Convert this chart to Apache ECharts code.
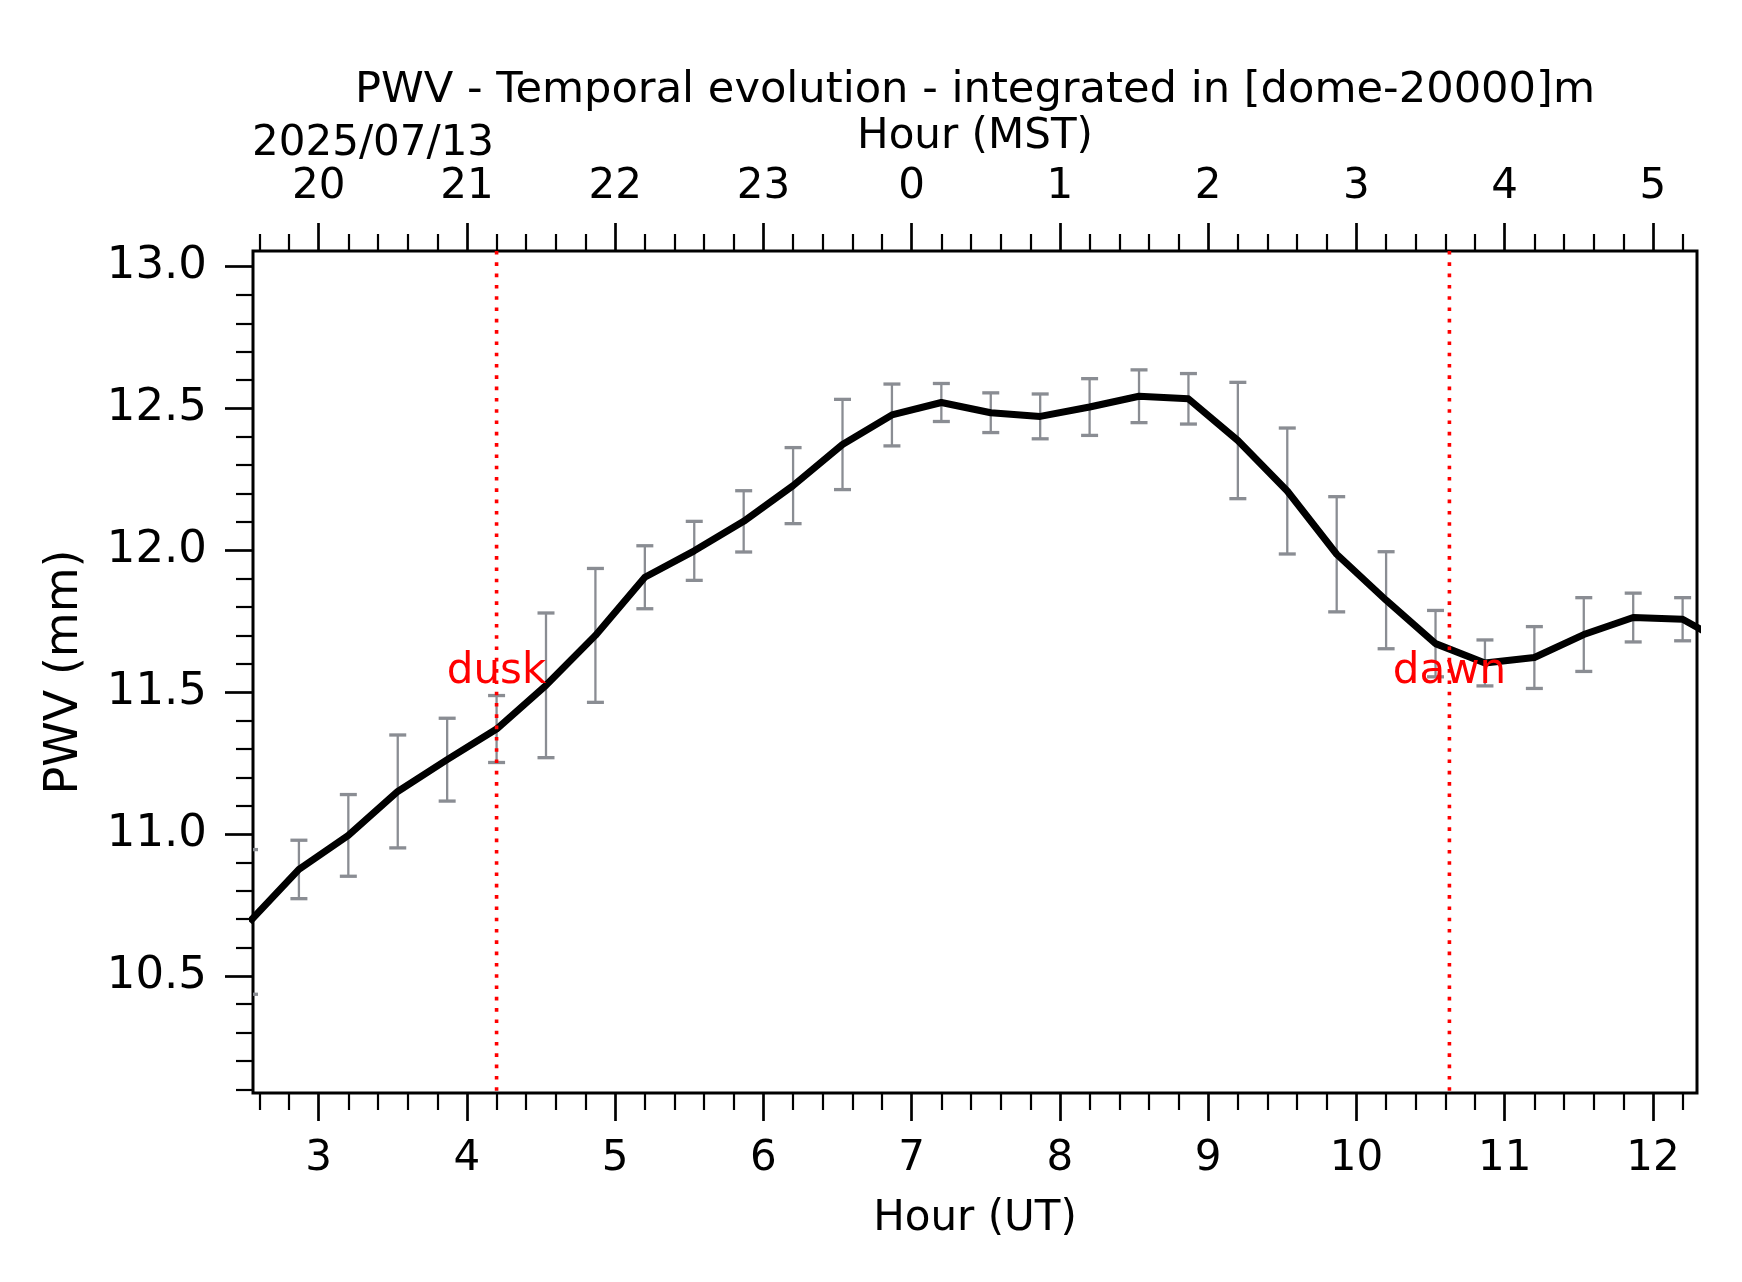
<!DOCTYPE html>
<html><head><meta charset="utf-8">
<script src="https://cdn.jsdelivr.net/npm/echarts@6/dist/echarts.min.js"></script>
<style>html,body{margin:0;padding:0;background:#fff}#c{width:1742px;height:1282px}</style>
</head><body><div id="c"></div>
<script>
// ---- data ----
const times = ['02:32','02:52','03:12','03:32','03:52','04:12','04:32','04:52','05:12','05:32','05:52',
  '06:12','06:32','06:52','07:12','07:32','07:52','08:12','08:32','08:52','09:12','09:32','09:52',
  '10:12','10:32','10:52','11:12','11:32','11:52','12:12','12:32'];
const pwv = [10.69,10.875,10.995,11.15,11.262,11.37,11.524,11.70,11.905,11.998,12.102,
  12.228,12.373,12.477,12.521,12.485,12.472,12.505,12.543,12.534,12.387,12.209,11.986,
  11.824,11.671,11.603,11.622,11.703,11.763,11.757,11.66];
const pwvErr = [0.255,0.103,0.144,0.199,0.146,0.118,0.255,0.236,0.111,0.104,0.108,
  0.134,0.159,0.109,0.067,0.070,0.079,0.100,0.093,0.089,0.205,0.222,0.203,
  0.171,0.117,0.081,0.109,0.130,0.086,0.076,0.090];
const utTicks = [3,4,5,6,7,8,9,10,11,12];
const mstTickLabels = ['20','21','22','23','0','1','2','3','4','5'];
const yTicks = [10.5,11.0,11.5,12.0,12.5,13.0];
const eventNames = ['dusk','dawn'];
const eventHours = [4.2,10.627];
const dateLabel = '2025/07/13';
const titleText = 'PWV - Temporal evolution - integrated in [dome-20000]m';
const XMIN = 2.557, XMAX = 12.297, YMIN = 10.087, YMAX = 13.055;

// ---- build ----
const toH = t => { const p = t.split(':'); return +p[0] + (+p[1])/60; };
const hours = times.map(toH);
const lineData = hours.map((h,i)=>[h,pwv[i]]);
const errData = hours.map((h,i)=>[h,pwv[i],pwvErr[i]]);
const xMinor = [], yMinor = [];
for (let k = 13; k <= 61; k++) { const v = k/5; if (k % 5 !== 0) xMinor.push(+v.toFixed(1)); }
for (let k = 101; k <= 130; k++) { if (k % 5 !== 0) yMinor.push(+(k/10).toFixed(1)); }

const FONT = 'DejaVu Sans';
const majX = (pos, labels, extra) => Object.assign({
  type:'value', min:XMIN, max:XMAX, position:pos, gridIndex:0,
  axisLine:{show:false}, splitLine:{show:false},
  axisTick:{show:true, inside:false, length:28, customValues:utTicks, lineStyle:{color:'#000', width:2.7}},
  axisLabel:{show:true, customValues:utTicks, fontFamily:FONT, fontSize:42, color:'#000',
    formatter: v => labels[utTicks.indexOf(Math.round(v))] }
}, extra);
const minX = pos => ({
  type:'value', min:XMIN, max:XMAX, position:pos, gridIndex:0,
  axisLine:{show:false}, splitLine:{show:false}, axisLabel:{show:false},
  axisTick:{show:true, inside:false, length:17, customValues:xMinor, lineStyle:{color:'#000', width:2.2}}
});

const chart = echarts.init(document.getElementById('c'), null, {renderer:'canvas'});
chart.setOption({
  backgroundColor:'#fff',
  animation:false,
  title:[
    {text:titleText, left:970, top:64, textAlign:'center', textStyle:{fontFamily:FONT, fontSize:43.2, fontWeight:'normal', color:'#000'}},
    {text:dateLabel, left:247, top:118, textStyle:{fontFamily:FONT, fontSize:42, fontWeight:'normal', color:'#000'}}
  ],
  grid:{left:253, right:45, top:251, bottom:189, show:true, borderColor:'#000', borderWidth:3, backgroundColor:'transparent'},
  xAxis:[
    majX('bottom', utTicks.map(String), {name:'Hour (UT)', nameLocation:'middle', nameGap:105,
      nameTextStyle:{fontFamily:FONT, fontSize:42, color:'#000'}, axisLabel:{show:true, customValues:utTicks, margin:45.5,
      fontFamily:FONT, fontSize:42, color:'#000', formatter: v => String(Math.round(v))}}),
    minX('bottom'),
    majX('top', mstTickLabels, {name:'Hour (MST)', nameLocation:'middle', nameGap:92.5,
      nameTextStyle:{fontFamily:FONT, fontSize:42, color:'#000'}, axisLabel:{show:true, customValues:utTicks, margin:42.5,
      fontFamily:FONT, fontSize:42, color:'#000', formatter: v => mstTickLabels[utTicks.indexOf(Math.round(v))]}}),
    minX('top')
  ],
  yAxis:[
    {type:'value', min:YMIN, max:YMAX, position:'left', gridIndex:0,
     name:'PWV (mm)', nameLocation:'middle', nameGap:165, nameTextStyle:{fontFamily:FONT, fontSize:46, color:'#000'},
     axisLine:{show:false}, splitLine:{show:false},
     axisTick:{show:true, inside:false, length:28, customValues:yTicks, lineStyle:{color:'#000', width:2.7}},
     axisLabel:{show:true, customValues:yTicks, margin:46, fontFamily:FONT, fontSize:45, color:'#000', formatter: v => v.toFixed(1)}},
    {type:'value', min:YMIN, max:YMAX, position:'left', gridIndex:0,
     axisLine:{show:false}, splitLine:{show:false}, axisLabel:{show:false},
     axisTick:{show:true, inside:false, length:17, customValues:yMinor, lineStyle:{color:'#000', width:2.2}}}
  ],
  series:[
    {type:'custom', xAxisIndex:0, yAxisIndex:0, clip:true, z:1, data:errData,
     renderItem:(params, api) => {
       const x = api.value(0), y = api.value(1), e = api.value(2);
       const t = api.coord([x, y+e]), b = api.coord([x, y-e]);
       const st = {stroke:'#8a8d93', lineWidth:2.3};
       const cw = 8.5;
       return {type:'group', children:[
         {type:'line', shape:{x1:t[0], y1:t[1], x2:b[0], y2:b[1]}, style:st},
         {type:'line', shape:{x1:t[0]-cw, y1:t[1], x2:t[0]+cw, y2:t[1]}, style:{stroke:'#8a8d93', lineWidth:3.3}},
         {type:'line', shape:{x1:b[0]-cw, y1:b[1], x2:b[0]+cw, y2:b[1]}, style:{stroke:'#8a8d93', lineWidth:3.3}}
       ]};
     }},
    {type:'line', xAxisIndex:0, yAxisIndex:0, data:lineData, symbol:'none', z:2,
     lineStyle:{color:'#000', width:7, join:'round'}},
    {type:'custom', xAxisIndex:0, yAxisIndex:0, z:3, data:eventHours.map(h=>[h, YMIN]),
     renderItem:(params, api) => {
       const cs = params.coordSys;
       const x = api.coord([api.value(0), api.value(1)])[0];
       return {type:'group', children:[
         {type:'line', shape:{x1:x, y1:cs.y, x2:x, y2:cs.y+cs.height},
          style:{stroke:'#ff0000', lineWidth:3.6, lineDash:[3.6,7.7]}},
         {type:'text', x:x, y:cs.y+cs.height/2,
          style:{text:eventNames[params.dataIndex], fill:'#ff0000', fontFamily:FONT, fontSize:42, align:'center', verticalAlign:'middle'}}
       ]};
     }}
  ]
});
</script></body></html>
